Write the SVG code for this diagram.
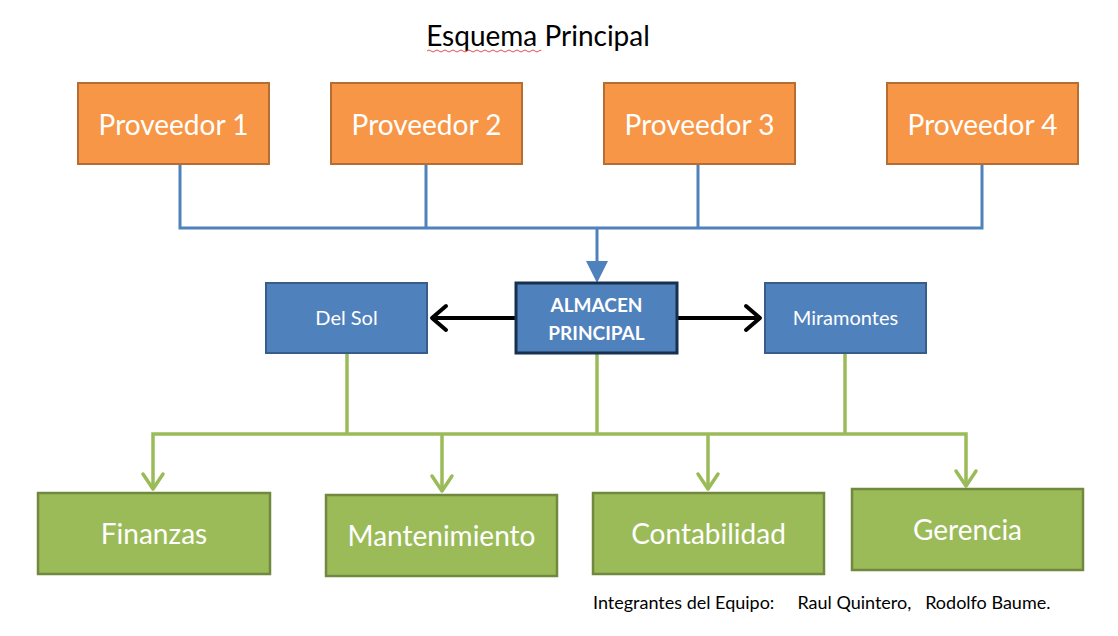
<svg xmlns="http://www.w3.org/2000/svg" width="1118" height="636" viewBox="0 0 1118 636">
<style>
text{font-family:Lato,"Open Sans","Liberation Sans",sans-serif;text-anchor:middle;fill:#fff}
.prov{fill:#F79646;stroke:#B66D31;stroke-width:2}
.blue{fill:#4F81BD;stroke:#385D8A;stroke-width:2}
.main{fill:#4F81BD;stroke:#17304F;stroke-width:3}
.green{fill:#9BBB59;stroke:#71893F;stroke-width:2.5}
.bl{fill:none;stroke:#4F81BD;stroke-width:3}
.gl{fill:none;stroke:#9BBB59;stroke-width:3.5}
.blk{fill:none;stroke:#000;stroke-width:4}
</style>
<text x="538" y="46" style="fill:#000;font-size:28px">Esquema Principal</text>
<path d="M427,51 q2,-2 4,0 t4,0 t4,0 t4,0 t4,0 t4,0 t4,0 t4,0 t4,0 t4,0 t4,0 t4,0 t4,0 t4,0 t4,0 t4,0 t4,0 t4,0 t4,0 t4,0 t4,0 t4,0 t4,0 t4,0 t4,0 t4,0 t4,0 t4,0 t2,0" fill="none" stroke="#E05050" stroke-width="1"/>
<g id="connectors">
<path class="bl" d="M180,164 V228 H982 V164 M426,164 V228 M698,164 V228 M597,228 V264"/>
<polygon points="586,261 608,261 597,283" fill="#4F81BD"/>
<path class="blk" d="M516,318 H432"/>
<path class="blk" d="M446,306 L432,318 L446,330" stroke-linecap="round" stroke-linejoin="round"/>
<path class="blk" d="M677,318 H760"/>
<path class="blk" d="M746,306 L760,318 L746,330" stroke-linecap="round" stroke-linejoin="round"/>
<path class="gl" d="M347,353 V434 M597,353 V434 M845,353 V434 M153,489 V434 H966 V486 M442,434 V491 M708,434 V489"/>
<g class="gl" stroke-width="6" stroke-linecap="round" stroke-linejoin="round">
<path d="M143,474 L153,489 L163,474"/>
<path d="M432,476 L442,491 L452,476"/>
<path d="M698,474 L708,489 L718,474"/>
<path d="M956,471 L966,486 L976,471"/>
</g>
</g>
<g id="prov1"><rect class="prov" x="78" y="83" width="191" height="81"/><text x="173.5" y="135" font-size="28">Proveedor 1</text></g>
<g id="prov2"><rect class="prov" x="331" y="83" width="191" height="81"/><text x="426.5" y="135" font-size="28">Proveedor 2</text></g>
<g id="prov3"><rect class="prov" x="604" y="83" width="191" height="81"/><text x="699.5" y="135" font-size="28">Proveedor 3</text></g>
<g id="prov4"><rect class="prov" x="887" y="83" width="191" height="81"/><text x="982.5" y="135" font-size="28">Proveedor 4</text></g>
<g id="delsol"><rect class="blue" x="266" y="283" width="161" height="70"/><text x="346.5" y="325" font-size="20">Del Sol</text></g>
<g id="almacen"><rect class="main" x="516" y="283" width="161" height="70"/><text x="596.5" y="312" font-size="19" font-weight="bold">ALMACEN</text><text x="596.5" y="340" font-size="19" font-weight="bold">PRINCIPAL</text></g>
<g id="miramontes"><rect class="blue" x="765" y="283" width="161" height="70"/><text x="845.5" y="325" font-size="20">Miramontes</text></g>
<g id="finanzas"><rect class="green" x="38" y="493" width="232" height="81"/><text x="154" y="544" font-size="28">Finanzas</text></g>
<g id="mantenimiento"><rect class="green" x="326" y="495" width="231" height="81"/><text x="441.5" y="546" font-size="28">Mantenimiento</text></g>
<g id="contabilidad"><rect class="green" x="593" y="493" width="231" height="81"/><text x="708.5" y="544" font-size="28">Contabilidad</text></g>
<g id="gerencia"><rect class="green" x="852" y="489" width="231" height="81"/><text x="967.5" y="540" font-size="28">Gerencia</text></g>
<text x="593" y="609" style="fill:#000;font-size:18px;text-anchor:start;white-space:pre" xml:space="preserve">Integrantes del Equipo:     Raul Quintero,   Rodolfo Baume.</text>
</svg>
